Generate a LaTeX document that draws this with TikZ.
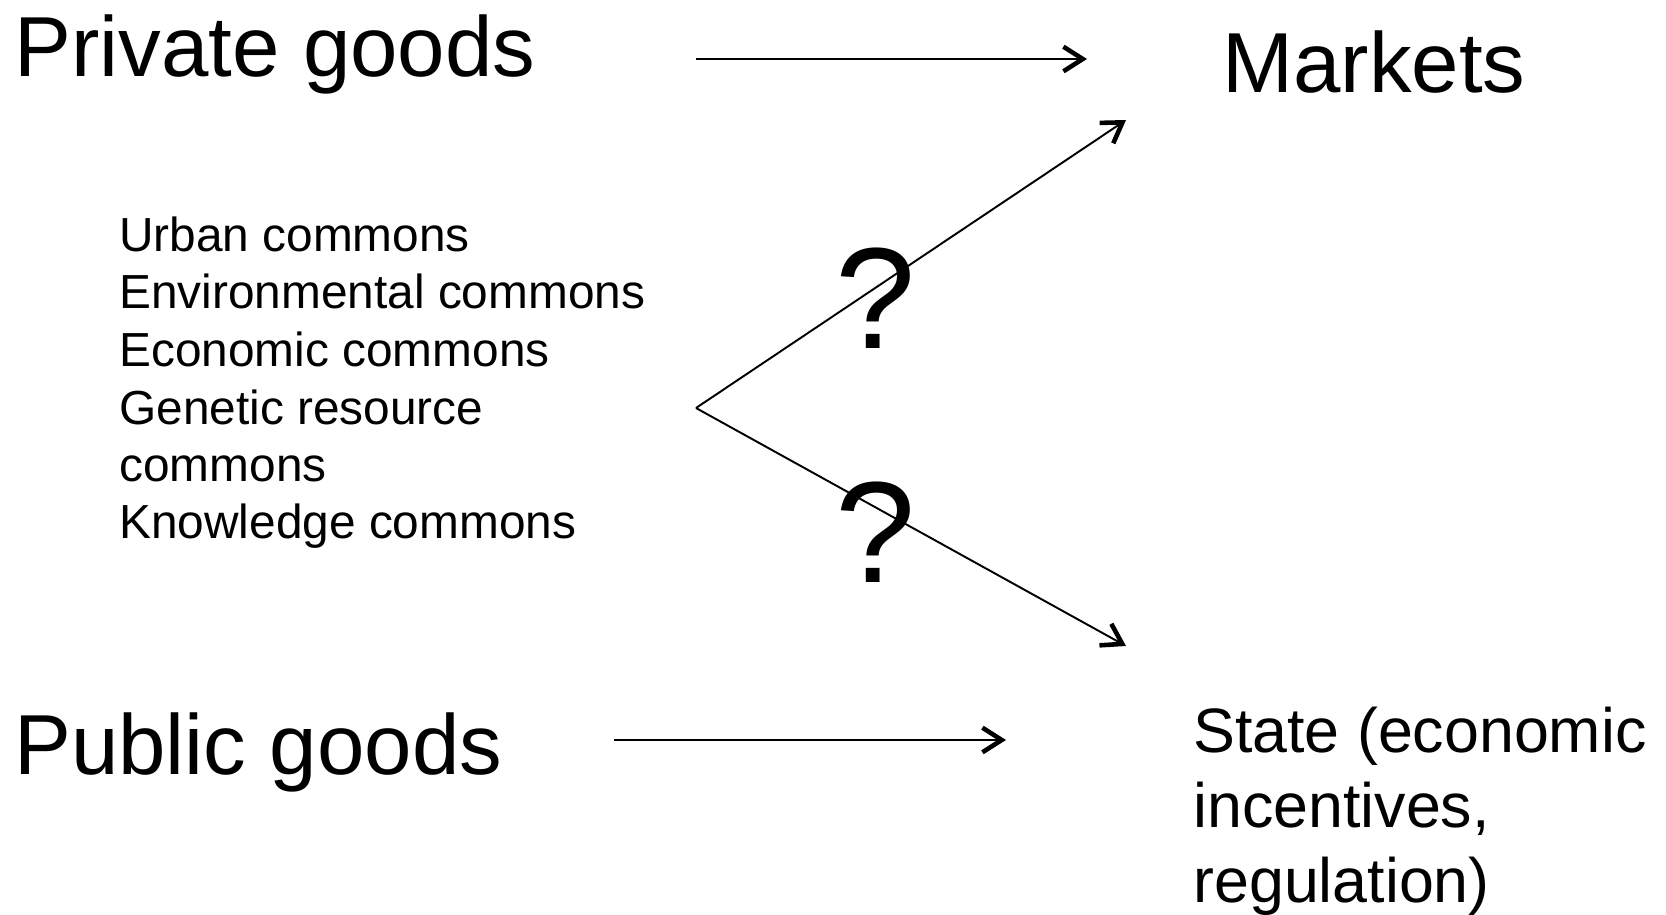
\documentclass[tikz,border=0pt]{standalone}
\usepackage{fontspec}
\setmainfont{Liberation Sans}
\usetikzlibrary{arrows.meta}

\tikzset{
    big/.style={font=\fontsize{48.5}{55}\selectfont,inner sep=0pt,anchor=base west},
    mid/.style={font=\fontsize{35.7}{41}\selectfont,inner sep=0pt,anchor=base west},
    small/.style={font=\fontsize{27.2}{32.5}\selectfont,inner sep=0pt,anchor=base west},
    qmark/.style={font=\fontsize{82}{90}\selectfont,inner sep=0pt,anchor=base},
    arr/.style={line width=1.1pt,-{Straight Barb[length=11pt,width=14pt,line width=2.6pt]}}
}

\begin{document}
\begin{tikzpicture}[x=0.02cm,y=-0.02cm]
    \useasboundingbox (0,0) rectangle (1666,915);
    % left column
    \node[big] (private) at (14,77) {Private goods};
    \node[big] (public) at (14,774) {Public goods};
    \node[small] (urban) at (119,252) {Urban commons};
    \node[small] (environ) at (119,309) {Environmental commons};
    \node[small] (economic) at (119,366) {Economic commons};
    \node[small] (genetic) at (119,424) {Genetic resource};
    \node[small] (genetic2) at (119,481) {commons};
    \node[small] (knowledge) at (119,538) {Knowledge commons};
    % right column
    \node[big] (markets) at (1222,93) {Markets};
    \node[mid] (state) at (1193,752) {State (economic};
    \node[mid] (state2) at (1193,827) {incentives,};
    \node[mid] (state3) at (1193,902) {regulation)};
    % arrows
    \coordinate (privateend) at (696,59);
    \coordinate (marketsin) at (1087,59);
    \coordinate (publicend) at (614,740);
    \coordinate (statein) at (1006,740);
    \coordinate (fork) at (696,408);
    \coordinate (upin) at (1126,120);
    \coordinate (downin) at (1126,646);
    \draw[arr] (privateend)--(marketsin);
    \draw[arr] (publicend)--(statein);
    \draw[arr] (fork)--(upin);
    \draw[arr] (fork)--(downin);
    \node[qmark] (qup) at (876,349) {?};
    \node[qmark] (qdown) at (876,582) {?};
\end{tikzpicture}
\end{document}
